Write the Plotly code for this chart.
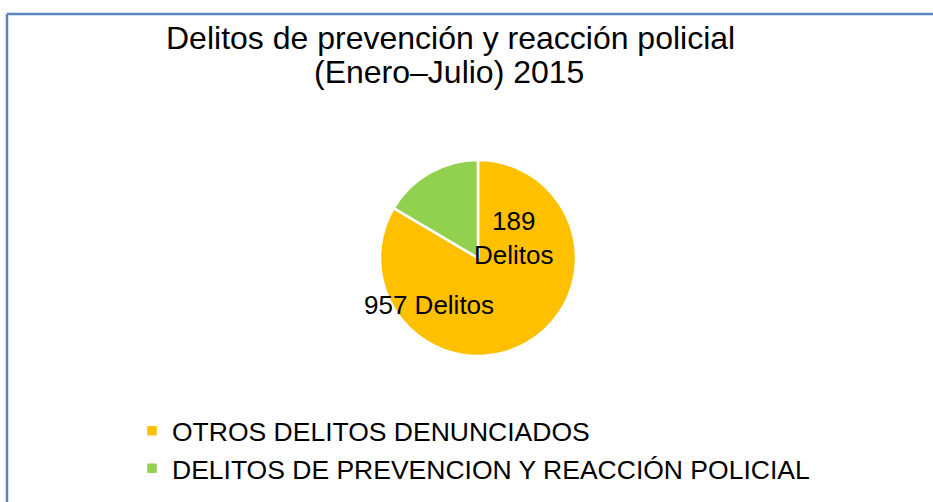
import plotly.graph_objects as go

# Data
categories = ["OTROS DELITOS DENUNCIADOS", "DELITOS DE PREVENCION Y REACCIÓN POLICIAL"]
values = [957, 189]
colors = ["#FFC000", "#92D050"]
title_lines = ["Delitos de prevención y reacción policial", "(Enero–Julio) 2015"]
label_suffix = "Delitos"

W, H = 933, 502
FONT = "Liberation Sans, Arial, sans-serif"

def px(x):
    return x / W

def py(y):
    return 1 - y / H

cx, cy, r = 478, 258, 98

fig = go.Figure(go.Pie(
    labels=categories,
    values=values,
    marker=dict(colors=colors, line=dict(color="white", width=2.5)),
    sort=False,
    direction="clockwise",
    rotation=0,
    textinfo="none",
    hoverinfo="label+value",
    domain=dict(x=[px(cx - 150), px(cx + 150)], y=[py(cy + r), py(cy - r)]),
))

annotations = [
    dict(text=title_lines[0], x=px(450), y=py(38), font=dict(size=32)),
    dict(text=title_lines[1], x=px(449), y=py(72), font=dict(size=32)),
    dict(text=f"{values[0]} {label_suffix}", x=px(429), y=py(305), font=dict(size=26)),
    dict(text=f"{values[1]}<br>{label_suffix}", x=px(513), y=py(238), font=dict(size=26)),
]
for a in annotations:
    a.update(xref="paper", yref="paper", showarrow=False, xanchor="center", yanchor="middle")
    a["font"].update(family=FONT, color="black")

fig.update_layout(
    width=W, height=H,
    margin=dict(l=0, r=0, t=0, b=0),
    paper_bgcolor="white",
    plot_bgcolor="white",
    font=dict(family=FONT, color="black"),
    annotations=annotations,
    showlegend=True,
    legend=dict(
        x=px(172 - 40), y=py(407), xanchor="left", yanchor="top",
        font=dict(size=26.5, family=FONT, color="black"),
        bgcolor="rgba(0,0,0,0)",
    ),
    shapes=[
        dict(type="line", xref="paper", yref="paper", x0=px(7), x1=1.01, y0=py(14), y1=py(14),
             line=dict(color="#5A86C4", width=2.5)),
        dict(type="line", xref="paper", yref="paper", x0=px(7), x1=px(7), y0=py(14), y1=-0.01,
             line=dict(color="#5A86C4", width=2.5)),
    ],
)

fig.write_html("out.html", config={"displayModeBar": False},
               post_script="document.body.style.margin='0px';")
